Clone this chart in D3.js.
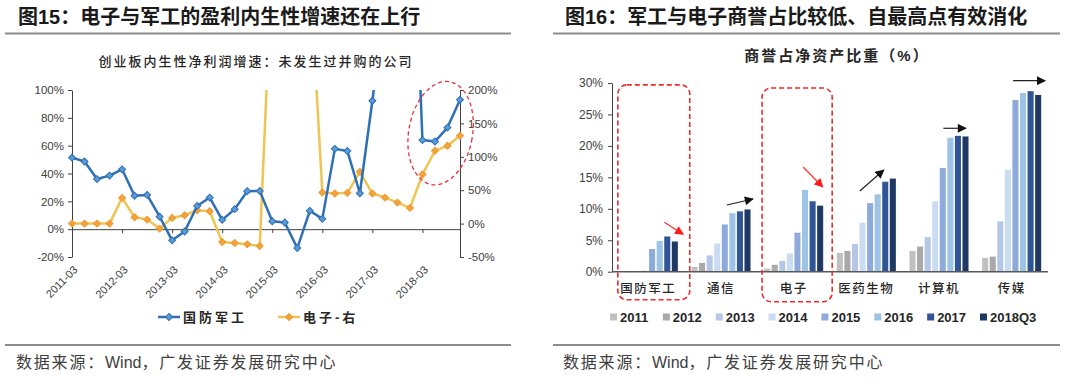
<!DOCTYPE html>
<html>
<head>
<meta charset="utf-8">
<script src="https://cdn.jsdelivr.net/npm/d3@7"></script>
<style>
  body { margin: 0; background: #fff; }
  svg text { font-family: "Liberation Sans", "Noto Sans CJK SC", sans-serif; }
</style>
</head>
<body>
<svg id="chart" width="1080" height="384"></svg>
<script>
// ---- left chart data (quarterly net profit growth) ----
const quarters = [
  "2011-03","2011-06","2011-09","2011-12","2012-03","2012-06","2012-09","2012-12",
  "2013-03","2013-06","2013-09","2013-12","2014-03","2014-06","2014-09","2014-12",
  "2015-03","2015-06","2015-09","2015-12","2016-03","2016-06","2016-09","2016-12",
  "2017-03","2017-06","2017-09","2017-12","2018-03","2018-06","2018-09","2018-12"
];
const quarterTicks = ["2011-03","2012-03","2013-03","2014-03","2015-03","2016-03","2017-03","2018-03"];
// 国防军工, left axis (values above 100% run off the plot)
const defenseGrowth = [
  0.514, 0.486, 0.36, 0.385, 0.43, 0.24, 0.246, 0.09,
  -0.08, -0.017, 0.167, 0.227, 0.067, 0.144, 0.273, 0.275,
  0.057, 0.048, -0.136, 0.132, 0.074, 0.577, 0.562, 0.258,
  0.923, 1.64, 2.5, 2.88, 0.64, 0.63, 0.73, 0.93
];
// 电子, right axis (values above 200% run off the plot)
const electronicsGrowth = [
  0, 0, 0, 0, 0.385, 0.095, 0.06, -0.075,
  0.085, 0.125, 0.2, 0.185, -0.275, -0.29, -0.31, -0.335,
  4.0, 4.5, 4.2, 3.8, 0.465, 0.45, 0.46, 0.775,
  0.45, 0.39, 0.315, 0.235, 0.735, 1.09, 1.165, 1.315
];
const leftTicks = [-0.2, 0, 0.2, 0.4, 0.6, 0.8, 1.0];
const rightTicks = [-0.5, 0, 0.5, 1.0, 1.5, 2.0];

// ---- right chart data (goodwill / net assets) ----
const industries = ["国防军工", "通信", "电子", "医药生物", "计算机", "传媒"];
const years = ["2011", "2012", "2013", "2014", "2015", "2016", "2017", "2018Q3"];
const gwDefense     = [0.001, 0.001, 0.001, 0.002, 0.036, 0.049, 0.056, 0.048];
const gwTelecom     = [0.0075, 0.014, 0.026, 0.045, 0.075, 0.093, 0.096, 0.099];
const gwElectronics = [0.005, 0.011, 0.017, 0.029, 0.062, 0.130, 0.112, 0.105];
const gwPharma      = [0.030, 0.033, 0.044, 0.078, 0.109, 0.123, 0.143, 0.148];
const gwComputer    = [0.033, 0.040, 0.055, 0.112, 0.165, 0.213, 0.216, 0.215];
const gwMedia       = [0.022, 0.024, 0.080, 0.162, 0.273, 0.284, 0.287, 0.281];
const barTicks = [0, 0.05, 0.10, 0.15, 0.20, 0.25, 0.30];
const yearColors = ["#c0c0c0", "#a9a9a9", "#b4c7e7", "#cadcf2", "#8eaadb", "#9dc3e6", "#2f5597", "#1f3864"];

const goodwill = [gwDefense, gwTelecom, gwElectronics, gwPharma, gwComputer, gwMedia];

const svg = d3.select("#chart");
const pct = d => Math.round(d * 100) + "%";

// ---- headers and footers ----
function panelFrame(x0, x1, titleX, title) {
  svg.append("text").attr("x", titleX).attr("y", 24)
    .attr("font-size", 20).attr("font-weight", "bold").attr("fill", "#1a1a1a")
    .text(title);
  svg.append("line").attr("x1", x0).attr("x2", x1).attr("y1", 33.5).attr("y2", 33.5)
    .attr("stroke", "#8c8c8c").attr("stroke-width", 2);
  svg.append("line").attr("x1", x0).attr("x2", x1).attr("y1", 345).attr("y2", 345)
    .attr("stroke", "#8c8c8c").attr("stroke-width", 2);
  const src = svg.append("text").attr("x", titleX - 2).attr("y", 368)
    .attr("font-size", 16).attr("fill", "#404040");
  src.append("tspan").attr("letter-spacing", 1.8).text("数据来源：");
  src.append("tspan").text("Wind");
  src.append("tspan").attr("letter-spacing", 1.8).text("，广发证券发展研究中心");
}
panelFrame(5, 511, 18, "图15：电子与军工的盈利内生性增速还在上行");
panelFrame(553, 1060, 565, "图16：军工与电子商誉占比较低、自最高点有效消化");

// ================= left chart =================
const xL = d3.scalePoint().domain(quarters).range([72, 460]);
const yL = d3.scaleLinear().domain([-0.2, 1]).range([257, 90]);
const yR = d3.scaleLinear().domain([-0.5, 2]).range([257, 90]);

svg.append("text").attr("x", 256).attr("y", 66).attr("text-anchor", "middle")
  .attr("font-size", 13).attr("font-weight", 500).attr("letter-spacing", 2).attr("fill", "#262626")
  .text("创业板内生性净利润增速：未发生过并购的公司");

const axisColor = "#404040";
const gLeft = svg.append("g").attr("transform", "translate(72,0)")
  .call(d3.axisLeft(yL).tickValues(leftTicks).tickFormat(pct).tickSize(4).tickSizeOuter(0));
const gRight = svg.append("g").attr("transform", "translate(460,0)")
  .call(d3.axisRight(yR).tickValues(rightTicks).tickFormat(pct).tickSize(4).tickSizeOuter(0));
const gX = svg.append("g").attr("transform", `translate(0,${yL(0)})`)
  .call(d3.axisBottom(xL).tickValues(quarterTicks).tickFormat("").tickSize(4).tickSizeOuter(0));
[gLeft, gRight, gX].forEach(g => {
  g.selectAll("path,line").attr("stroke", axisColor);
  g.selectAll("text").attr("font-size", 11.5).attr("fill", "#404040")
    .attr("font-family", "Liberation Sans, sans-serif");
});
gLeft.selectAll("text").attr("x", -8);
gRight.selectAll("text").attr("x", 8);

svg.append("g").selectAll("text").data(quarterTicks).join("text")
  .attr("transform", d => `translate(${xL(d) + 1},${265}) rotate(-45)`)
  .attr("text-anchor", "end").attr("dy", "0.7em")
  .attr("font-size", 11).attr("fill", "#404040")
  .text(d => d);

svg.append("clipPath").attr("id", "plotL")
  .append("rect").attr("x", 66).attr("y", 90).attr("width", 400).attr("height", 167);
const plotL = svg.append("g").attr("clip-path", "url(#plotL)");

const diamond = d3.symbol(d3.symbolSquare, 24);
function series(values, yScale, lineColor, fill, stroke) {
  const line = d3.line().x((d, i) => xL(quarters[i])).y(d => yScale(d));
  plotL.append("path").datum(values).attr("d", line)
    .attr("fill", "none").attr("stroke", lineColor).attr("stroke-width", 2.5)
    .attr("stroke-linejoin", "round");
  plotL.append("g").selectAll("path").data(values).join("path")
    .attr("d", diamond)
    .attr("transform", (d, i) => `translate(${xL(quarters[i])},${yScale(d)}) rotate(45)`)
    .attr("fill", fill).attr("stroke", stroke).attr("stroke-width", 1);
}
series(electronicsGrowth, yR, "#efc453", "#f4a23c", "#ee9a30");
series(defenseGrowth, yL, "#2e6fb7", "#5b9bd5", "#2e6fb7");

// red dashed ellipse around 2018 points
const ellipseQ = 29.45, ellipseV = 0.69;
svg.append("ellipse")
  .attr("transform", `translate(${xL.step() * ellipseQ + 72},${yL(ellipseV)}) rotate(10)`)
  .attr("rx", xL.step() * 2.55).attr("ry", yL(0) - yL(0.375))
  .attr("fill", "none").attr("stroke", "#e8303a").attr("stroke-width", 1.3)
  .attr("stroke-dasharray", "4,3");

// left legend
const legL = [
  { name: "国防军工", x: 158, line: "#2e6fb7", fill: "#5b9bd5", stroke: "#2e6fb7" },
  { name: "电子-右", x: 278, line: "#efc453", fill: "#f4a23c", stroke: "#ee9a30" }
];
const lg = svg.append("g").selectAll("g").data(legL).join("g")
  .attr("transform", d => `translate(${d.x},317)`);
lg.append("line").attr("x1", 0).attr("x2", 22).attr("stroke", d => d.line).attr("stroke-width", 2.5);
lg.append("path").attr("d", diamond).attr("transform", "translate(11,0) rotate(45)")
  .attr("fill", d => d.fill).attr("stroke", d => d.stroke);
lg.append("text").attr("x", 25).attr("dy", "0.36em")
  .attr("font-size", 13).attr("font-weight", "bold").attr("letter-spacing", 3).attr("fill", "#262626")
  .text(d => d.name);

// ================= right chart =================
const x0 = d3.scaleBand().domain(industries).range([612, 1048]);
const x1 = d3.scaleBand().domain(years).range([0, x0.bandwidth()]).paddingInner(0.2).paddingOuter(0.9);
const yB = d3.scaleLinear().domain([0, 0.3]).range([271.7, 83]);
const color = d3.scaleOrdinal().domain(years).range(yearColors);

svg.append("text").attr("x", 837).attr("y", 61).attr("text-anchor", "middle")
  .attr("font-size", 15).attr("font-weight", "bold").attr("letter-spacing", 2).attr("fill", "#262626")
  .text("商誉占净资产比重（%）");

const gBy = svg.append("g").attr("transform", "translate(612,0)")
  .call(d3.axisLeft(yB).tickValues(barTicks).tickFormat(pct).tickSize(4).tickSizeOuter(0));
gBy.selectAll("path,line").attr("stroke", axisColor);
gBy.selectAll("text").attr("x", -9).attr("font-size", 12).attr("fill", "#404040")
  .attr("font-family", "Liberation Sans, sans-serif");

const groups = svg.append("g").selectAll("g").data(industries).join("g")
  .attr("transform", d => `translate(${x0(d)},0)`);
groups.selectAll("rect")
  .data((d, i) => years.map((y, j) => ({ year: y, value: goodwill[i][j] })))
  .join("rect")
  .attr("x", d => x1(d.year)).attr("width", x1.bandwidth())
  .attr("y", d => yB(d.value)).attr("height", d => yB(0) - yB(d.value))
  .attr("fill", d => color(d.year));

svg.append("line").attr("x1", 612).attr("x2", 1048).attr("y1", yB(0)).attr("y2", yB(0))
  .attr("stroke", "#595959").attr("stroke-width", 1.5);

svg.append("g").selectAll("text").data(industries).join("text")
  .attr("x", d => x0(d) + x0.bandwidth() / 2).attr("y", 293)
  .attr("text-anchor", "middle").attr("font-size", 12.5).attr("letter-spacing", 1.5)
  .attr("font-weight", 500).attr("fill", "#262626")
  .text(d => d);

// red dashed highlight boxes
const boxes = [
  { cat: "国防军工", f0: 0.08, f1: 1.07, top: 0.297, bottom: 28 },
  { cat: "电子", f0: 0.065, f1: 1.03, top: 0.292, bottom: 30 }
];
svg.append("g").selectAll("rect").data(boxes).join("rect")
  .attr("x", d => x0(d.cat) + d.f0 * x0.bandwidth())
  .attr("width", d => (d.f1 - d.f0) * x0.bandwidth())
  .attr("y", d => yB(d.top))
  .attr("height", d => yB(0) + d.bottom - yB(d.top))
  .attr("rx", 9)
  .attr("fill", "none").attr("stroke", "#ee2a2a").attr("stroke-width", 1.6)
  .attr("stroke-dasharray", "5,3");

// trend arrows
const defs = svg.append("defs");
[["arrowRed", "#ff1a1a"], ["arrowBlack", "#111"]].forEach(([id, c]) => {
  defs.append("marker").attr("id", id).attr("viewBox", "0 0 10 10")
    .attr("refX", 9).attr("refY", 5).attr("markerUnits", "userSpaceOnUse")
    .attr("markerWidth", 10).attr("markerHeight", 9).attr("orient", "auto")
    .append("path").attr("d", "M0,0 L10,5 L0,10 Z").attr("fill", c);
});
const arrows = [
  { cat: "国防军工", f0: 0.72, v0: 0.0785, f1: 0.98, v1: 0.0595, red: true },
  { cat: "通信", f0: 0.58, v0: 0.106, f1: 0.94, v1: 0.1156, red: false },
  { cat: "电子", f0: 0.63, v0: 0.1665, f1: 0.90, v1: 0.1347, red: true },
  { cat: "医药生物", f0: 0.41, v0: 0.1283, f1: 0.74, v1: 0.1617, red: false },
  { cat: "计算机", f0: 0.56, v0: 0.228, f1: 0.87, v1: 0.228, red: false },
  { cat: "传媒", f0: 0.52, v0: 0.3037, f1: 0.96, v1: 0.3037, red: false }
];
svg.append("g").selectAll("line").data(arrows).join("line")
  .attr("x1", d => x0(d.cat) + d.f0 * x0.bandwidth()).attr("y1", d => yB(d.v0))
  .attr("x2", d => x0(d.cat) + d.f1 * x0.bandwidth()).attr("y2", d => yB(d.v1))
  .attr("stroke", d => d.red ? "#ff3030" : "#222").attr("stroke-width", 1.2)
  .attr("marker-end", d => d.red ? "url(#arrowRed)" : "url(#arrowBlack)");

// right legend
const legX = d3.scalePoint().domain(years).range([610, 980]);
const lr = svg.append("g").selectAll("g").data(years).join("g")
  .attr("transform", d => `translate(${legX(d)},317)`);
lr.append("rect").attr("x", 0).attr("y", -3.5).attr("width", 7).attr("height", 7)
  .attr("fill", d => color(d));
lr.append("text").attr("x", 10).attr("dy", "0.36em")
  .attr("font-size", 13).attr("font-weight", "bold").attr("fill", "#262626")
  .text(d => d);
</script>
</body>
</html>
